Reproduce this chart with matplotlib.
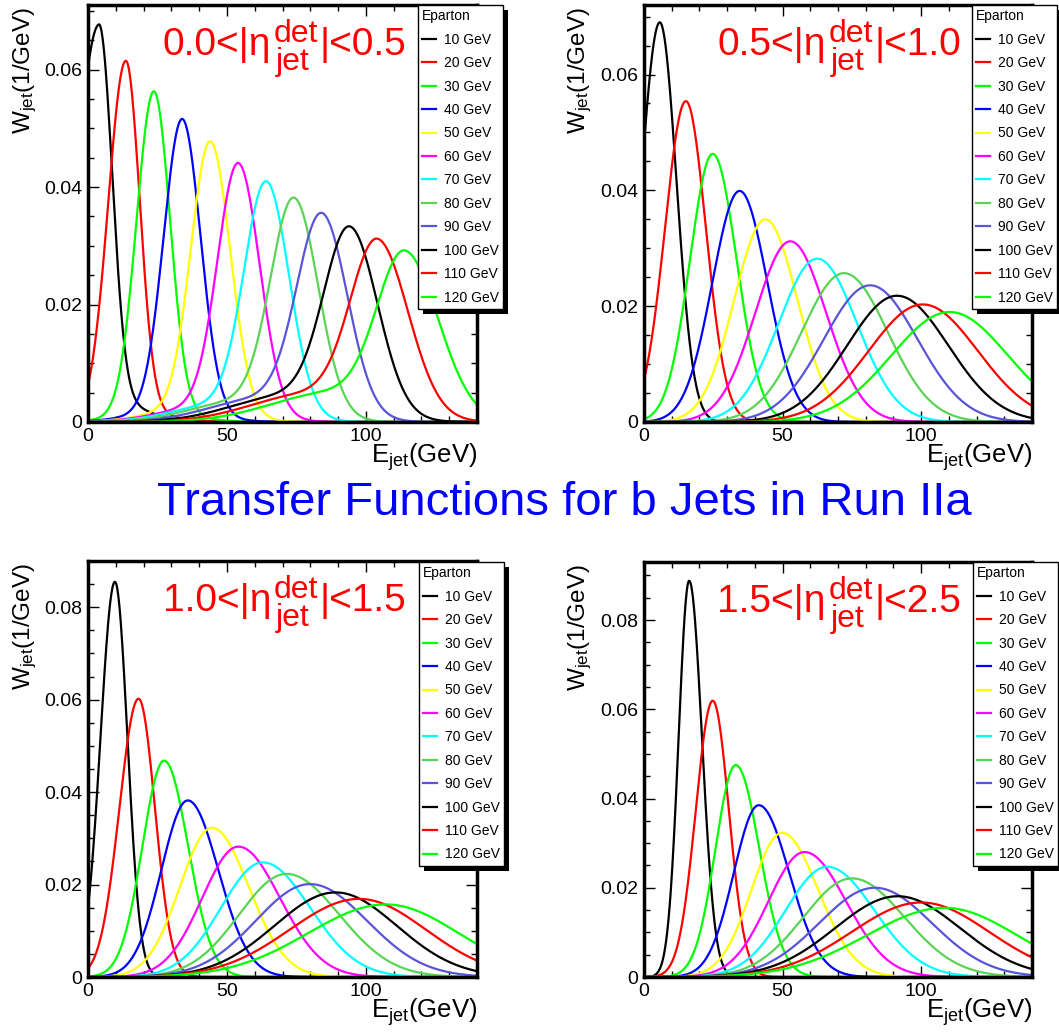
import matplotlib
matplotlib.use('Agg')
import matplotlib.pyplot as plt
import numpy as np
from matplotlib.patches import Rectangle
from matplotlib.ticker import MultipleLocator, FuncFormatter

plt.rcParams['font.family'] = ['Liberation Sans', 'DejaVu Sans']
plt.rcParams['mathtext.fontset'] = 'custom'
plt.rcParams['mathtext.rm'] = 'Liberation Sans'
plt.rcParams['mathtext.it'] = 'Liberation Sans'
plt.rcParams['mathtext.default'] = 'regular'

# parton energies / legend entries
e_parton = [10, 20, 30, 40, 50, 60, 70, 80, 90, 100, 110, 120]
legend_labels = [f'{e} GeV' for e in e_parton]
colors = ['#000000', '#ff0000', '#00ff00', '#0000ff', '#ffff00', '#ff00ff',
          '#00ffff', '#59d454', '#5954d8', '#000000', '#ff0000', '#00ff00']

# eta bin bounds
eta_lo = ['0.0', '0.5', '1.0', '1.5']
eta_hi = ['0.5', '1.0', '1.5', '2.5']
y_max = [0.071, 0.072, 0.09, 0.093]

# curve peaks (E_jet, W_jet) and widths
peak_e_1 = [3.9, 13.6, 23.7, 33.9, 44.0, 54.1, 64.2, 74.2, 84.2, 94.3, 104.3, 114.2]
peak_w_1 = [0.0677, 0.0615, 0.0563, 0.0516, 0.0478, 0.0441, 0.0410, 0.0382, 0.0356, 0.0333, 0.0312, 0.0292]
sig_lo_1 = [8.5, 6.3, 6.2, 6.6, 6.9, 7.4, 7.9, 8.4, 8.9, 9.3, 9.7, 10.0]
sig_hi_1 = [4.8, 5.0, 5.8, 6.6, 7.2, 7.7, 8.2, 8.7, 9.2, 10.0, 11.0, 12.0]
# low-energy tails (only visible in the first eta bin)
tail_w_1 = [0.0025, 0.0015, 0.0015, 0.0018, 0.002, 0.0025, 0.003, 0.0035, 0.004, 0.0045, 0.0048, 0.005]
tail_e_1 = [14, 18, 25, 30, 36, 42, 48, 55, 63, 72, 80, 88]
tail_s_1 = [9, 12, 13, 14, 15, 16, 17, 18, 19, 20, 21, 22]

peak_e_2 = [5.7, 15.1, 24.8, 34.5, 43.8, 52.8, 62.5, 72.2, 81.6, 91.3, 100.6, 110.3]
peak_w_2 = [0.069, 0.0554, 0.0463, 0.0399, 0.035, 0.0312, 0.0282, 0.0257, 0.0236, 0.0218, 0.0203, 0.019]
sig_lo_2 = [6.7, 7.5, 8.2, 9.8, 11.2, 12.6, 13.9, 15.3, 16.7, 18.0, 19.5, 21.0]
sig_hi_2 = [6.0, 7.2, 8.6, 10.0, 11.5, 12.9, 14.3, 15.7, 17.1, 18.5, 19.8, 21.0]

peak_e_3 = [9.7, 18.2, 27.4, 35.9, 44.6, 54.1, 62.9, 71.4, 79.9, 89.1, 97.6, 107.3]
peak_w_3 = [0.0855, 0.0602, 0.0468, 0.0382, 0.0323, 0.0282, 0.0248, 0.0223, 0.0201, 0.0183, 0.0169, 0.0157]
sig_lo_3 = [5.2, 6.9, 7.8, 9.5, 11.5, 13.0, 15.0, 17.0, 19.5, 22.0, 25.0, 28.0]
sig_hi_3 = [4.5, 5.9, 8.6, 11.0, 13.2, 15.0, 17.0, 19.0, 20.5, 22.0, 24.0, 26.0]

peak_e_4 = [16.3, 24.8, 33.1, 41.4, 49.8, 57.9, 66.1, 75.0, 83.3, 91.5, 100.0, 108.5]
peak_w_4 = [0.0888, 0.0619, 0.0475, 0.0385, 0.0323, 0.028, 0.0247, 0.0221, 0.0200, 0.0181, 0.0167, 0.0155]
sig_lo_4 = [3.8, 6.1, 7.3, 9.0, 11.0, 13.0, 15.0, 17.5, 20.0, 22.5, 25.0, 28.0]
sig_hi_4 = [4.6, 5.8, 8.5, 11.0, 13.0, 15.0, 17.0, 19.0, 20.5, 22.5, 24.5, 26.0]

zeros = [0.0] * 12
panels = [
    (peak_e_1, peak_w_1, sig_lo_1, sig_hi_1, tail_w_1, tail_e_1, tail_s_1),
    (peak_e_2, peak_w_2, sig_lo_2, sig_hi_2, zeros, peak_e_2, sig_lo_2),
    (peak_e_3, peak_w_3, sig_lo_3, sig_hi_3, zeros, peak_e_3, sig_lo_3),
    (peak_e_4, peak_w_4, sig_lo_4, sig_hi_4, zeros, peak_e_4, sig_lo_4),
]

W, H = 1059, 1034
fig = plt.figure(figsize=(W / 100, H / 100), dpi=100)
renderer = fig.canvas.get_renderer()

# axes boxes in pixels: left, top, right, bottom
boxes = [(88, 5, 477, 422), (644, 5, 1032, 422), (88, 561, 477, 977), (644, 562, 1032, 977)]
legend_pos = [(418, 5), (972, 5), (419, 562), (973, 562)]
ylab_x = [25, 580, 25, 580]

def fx(px):
    return px / W

def fy(py):
    return 1 - py / H

def text_width(s, size):
    t = fig.text(0, 0, s, fontsize=size)
    w = t.get_window_extent(renderer).width
    t.remove()
    return w

def eta_label(x_end, y_base, lo, hi):
    # ROOT style  lo<|eta^det_jet|<hi, right aligned at x_end (pixels)
    big, small = 28, 23
    right = '|<' + hi
    left = lo + '<|\u03b7'
    w_r = text_width(right, big)
    w_s = max(text_width('det', small), text_width('jet', small))
    w_l = text_width(left, big)
    x_r = x_end - w_r
    x_s = x_r - w_s - 1
    x_l = x_s - w_l - 3
    kw = dict(color='#ff0000', ha='left', va='baseline')
    fig.text(fx(x_l), fy(y_base), left, fontsize=big, **kw)
    fig.text(fx(x_s), fy(y_base - 13), 'det', fontsize=small, **kw)
    fig.text(fx(x_s + 2), fy(y_base + 15), 'jet', fontsize=small, **kw)
    fig.text(fx(x_r), fy(y_base), right, fontsize=big, **kw)

e = np.linspace(0, 140, 700)
legends = []
for i, (l, t, r, b) in enumerate(boxes):
    ax = fig.add_axes([fx(l), fy(b), fx(r) - fx(l), fy(t) - fy(b)])
    pe, pw, slo, shi, tw, te, ts = panels[i]
    handles = []
    for k in range(12):
        tail = lambda x: tw[k] * np.exp(-0.5 * ((x - te[k]) / ts[k]) ** 2)
        amp = pw[k] - tail(pe[k])
        s = np.where(e < pe[k], slo[k], shi[k])
        w = amp * np.exp(-0.5 * ((e - pe[k]) / s) ** 2) + tail(e)
        h, = ax.plot(e, w, color=colors[k], lw=1.6, label=legend_labels[k])
        handles.append(h)
    ax.set_xlim(0, 140)
    ax.set_ylim(0, y_max[i])
    ax.xaxis.set_major_locator(MultipleLocator(50))
    ax.xaxis.set_minor_locator(MultipleLocator(10))
    ax.yaxis.set_major_locator(MultipleLocator(0.02))
    ax.yaxis.set_minor_locator(MultipleLocator(0.005))
    ax.yaxis.set_major_formatter(FuncFormatter(lambda v, p: '0' if abs(v) < 1e-9 else f'{v:.2f}'))
    ax.tick_params(which='both', direction='in', top=True, right=True, width=1, labelsize=14, pad=4)
    ax.tick_params(which='major', length=8)
    ax.tick_params(which='minor', length=4)
    for sp in ax.spines.values():
        sp.set_linewidth(2.5)

    eta_label(r - 71, t + 50, eta_lo[i], eta_hi[i])
    fig.text(fx(ylab_x[i]), fy(t + 2), r'W$_{jet}$(1/GeV)', fontsize=17.5,
             rotation=90, ha='center', va='top')
    fig.text(fx(r), fy(b + 41), r'E$_{jet}$(GeV)', fontsize=18.5, ha='right', va='baseline')

    lx, ly = legend_pos[i]
    leg = fig.legend(handles=handles, loc='upper left', bbox_to_anchor=(fx(lx), fy(ly)),
                     bbox_transform=fig.transFigure, fontsize=10, title='Eparton',
                     title_fontsize=10, alignment='left', handlelength=1.0,
                     handletextpad=0.55, borderpad=0.3, labelspacing=0.68,
                     borderaxespad=0, fancybox=False, framealpha=1, edgecolor='k')
    leg.get_frame().set_linewidth(1)
    leg.set_zorder(10)
    legends.append(leg)

fig.text(fx(564), fy(503), 'Transfer Functions for b Jets in Run IIa', color='#0000ff',
         fontsize=34, ha='center', va='center')

# black drop shadows behind the legend boxes
fig.canvas.draw()
inv = fig.transFigure.inverted()
for leg in legends:
    bb = leg.get_window_extent()
    x0, y0 = inv.transform((bb.x0 + 5, bb.y0 - 5))
    x1, y1 = inv.transform((bb.x1 + 5, bb.y1 - 5))
    fig.add_artist(Rectangle((x0, y0), x1 - x0, y1 - y0, transform=fig.transFigure,
                             facecolor='k', edgecolor='none', zorder=9))

fig.savefig('out.png', dpi=100)
